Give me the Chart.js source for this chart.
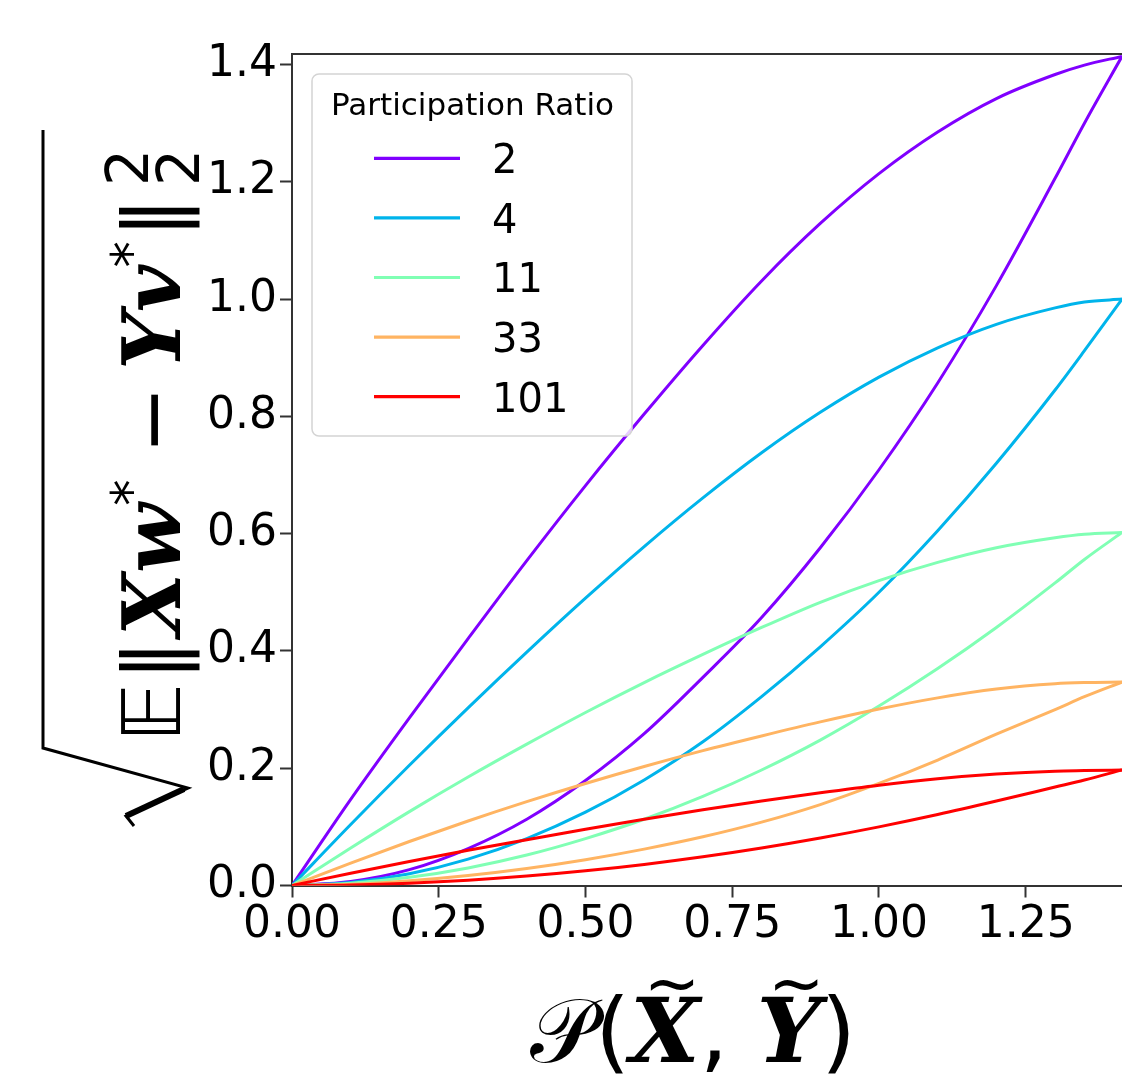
<!DOCTYPE html>
<html>
<head>
<meta charset="utf-8">
<script src="https://cdn.jsdelivr.net/npm/chart.js@4.4.0/dist/chart.umd.min.js"></script>
<style>
  html, body { margin: 0; padding: 0; background: #fff; }
  #wrap { position: relative; width: 1122px; height: 1077px; }
</style>
</head>
<body>
<div id="wrap"><canvas id="chart" width="1122" height="1077"></canvas></div>
<script>
// ------ Data ------
var ratios = ['2', '4', '11', '33', '101'];
var colors = ['#8000ff', '#00b4eb', '#80ffb4', '#ffb462', '#ff0000'];
var procrustes = [0, 0.1, 0.2, 0.3, 0.4, 0.5, 0.6, 0.7, 0.8, 0.9, 1.0, 1.1, 1.2, 1.3, 1.35, 1.414];

var upperPR2   = [0, 0.147, 0.286, 0.421, 0.554, 0.682, 0.804, 0.921, 1.031, 1.129, 1.214, 1.285, 1.342, 1.383, 1.399, 1.414];
var lowerPR2   = [0, 0.007, 0.027, 0.063, 0.113, 0.179, 0.259, 0.355, 0.457, 0.576, 0.709, 0.857, 1.023, 1.206, 1.300, 1.414];
var upperPR4   = [0, 0.104, 0.205, 0.303, 0.398, 0.490, 0.578, 0.661, 0.738, 0.807, 0.867, 0.917, 0.957, 0.985, 0.995, 1.0];
var lowerPR4   = [0, 0.005, 0.02, 0.045, 0.08, 0.125, 0.18, 0.245, 0.322, 0.407, 0.5, 0.605, 0.72, 0.845, 0.912, 1.0];
var upperPR11  = [0, 0.064, 0.126, 0.185, 0.241, 0.295, 0.346, 0.394, 0.440, 0.483, 0.520, 0.551, 0.576, 0.593, 0.599, 0.602];
var lowerPR11  = [0, 0.004, 0.014, 0.030, 0.052, 0.080, 0.113, 0.152, 0.197, 0.248, 0.306, 0.370, 0.440, 0.516, 0.556, 0.602];
var upperPR33  = [0, 0.038, 0.075, 0.110, 0.143, 0.174, 0.203, 0.230, 0.255, 0.279, 0.301, 0.320, 0.335, 0.344, 0.346, 0.347];
var lowerPR33  = [0, 0.002, 0.008, 0.017, 0.029, 0.044, 0.062, 0.083, 0.108, 0.138, 0.174, 0.214, 0.258, 0.300, 0.322, 0.347];
var upperPR101 = [0, 0.021, 0.041, 0.060, 0.078, 0.096, 0.113, 0.129, 0.144, 0.158, 0.171, 0.182, 0.190, 0.195, 0.196, 0.197];
var lowerPR101 = [0, 0.001, 0.004, 0.009, 0.016, 0.025, 0.036, 0.049, 0.064, 0.081, 0.100, 0.121, 0.144, 0.168, 0.180, 0.197];

var xTicks = [0, 0.25, 0.5, 0.75, 1.0, 1.25];
var yTicks = [0, 0.2, 0.4, 0.6, 0.8, 1.0, 1.2, 1.4];

var upperCurves = [upperPR2, upperPR4, upperPR11, upperPR33, upperPR101];
var lowerCurves = [lowerPR2, lowerPR4, lowerPR11, lowerPR33, lowerPR101];

var SANS = '"DejaVu Sans", "Noto Sans", sans-serif';
var SERIF = '"DejaVu Serif", "Liberation Serif", serif';

// ------ Datasets (two branches per ratio, same colour) ------
var datasets = [];
ratios.forEach(function(r, i) {
    [upperCurves[i], lowerCurves[i]].forEach(function(vals) {
        datasets.push({
            label: r,
            data: procrustes.map(function(x, j) { return { x: x, y: vals[j] }; }),
            borderColor: colors[i],
            backgroundColor: colors[i],
            borderWidth: 3,
            pointRadius: 0,
            fill: false,
            cubicInterpolationMode: 'monotone',
            order: ratios.length - i
        });
    });
});

// ------ Helpers for the math titles ------
function pieceFont(p, size) {
    var s = size * (p.scale || 1);
    return (p.style ? p.style + ' ' : '') + s.toFixed(1) + 'px ' + (p.family || SANS);
}

function runWidth(ctx, pieces, size) {
    var w = 0;
    pieces.forEach(function(p) {
        ctx.font = pieceFont(p, size);
        w += ctx.measureText(p.t).width + (p.gap || 0) * size;
    });
    return w;
}

function drawRun(ctx, pieces, size) {
    var u = 0;
    pieces.forEach(function(p) {
        ctx.font = pieceFont(p, size);
        var w = ctx.measureText(p.t).width;
        ctx.fillText(p.t, u, -(p.rise || 0) * size);
        if (p.sub) ctx.fillText(p.sub, u, 0.24 * size);
        if (p.tilde) {
            ctx.font = (0.75 * size).toFixed(1) + 'px ' + SANS;
            var tw = ctx.measureText('~').width;
            ctx.fillText('~', u + w / 2 - tw / 2 + 0.08 * size, -0.62 * size);
        }
        u += w + (p.gap || 0) * size;
    });
    return u;
}

var yTitlePieces = [
    { t: '\u{1D53C}', family: SANS, gap: 0.03 },
    { t: '\u2016', family: SANS, gap: 0.05 },
    { t: 'X', style: 'bold italic', family: SERIF },
    { t: 'w', style: 'bold italic', family: SERIF, gap: -0.03 },
    { t: '*', scale: 0.65, rise: 0.38, family: SANS },
    { t: ' \u2212 ', family: SANS, gap: -0.12 },
    { t: 'Y', style: 'bold italic', family: SERIF },
    { t: 'v', style: 'bold italic', family: SERIF, gap: -0.03 },
    { t: '*', scale: 0.65, rise: 0.38, family: SANS, gap: 0.04 },
    { t: '\u2016', family: SANS, gap: 0.14 },
    { t: '2', scale: 0.72, rise: 0.4, sub: '2', family: SANS }
];

var xTitlePieces = [
    { t: '\u{1D4AB}', family: SANS },
    { t: '(', family: SANS },
    { t: 'X', style: 'bold italic', family: SERIF, tilde: true },
    { t: ', ', family: SANS },
    { t: 'Y', style: 'bold italic', family: SERIF, tilde: true },
    { t: ')', family: SANS }
];

var mathTitles = {
    id: 'mathTitles',
    afterDraw: function(chart) {
        var ctx = chart.ctx;
        ctx.save();
        ctx.fillStyle = '#000';
        ctx.textBaseline = 'alphabetic';
        ctx.textAlign = 'left';

        // y title, rotated, reading upwards, under a radical
        ctx.save();
        ctx.translate(180, 742);
        ctx.rotate(-Math.PI / 2);
        var end = drawRun(ctx, yTitlePieces, 81);
        ctx.strokeStyle = '#000';
        ctx.lineJoin = 'miter';
        ctx.lineWidth = 3;
        ctx.beginPath();
        ctx.moveTo(-84, -46);
        ctx.lineTo(-74, -54);
        ctx.lineTo(-46, 8);
        ctx.lineTo(-6, -137);
        ctx.lineTo(Math.max(end + 6, 612), -137);
        ctx.stroke();
        ctx.lineWidth = 6;
        ctx.beginPath();
        ctx.moveTo(-74, -54);
        ctx.lineTo(-47, 4);
        ctx.stroke();
        ctx.restore();

        // x title
        var xs = 75 * 326 / runWidth(ctx, xTitlePieces, 75);
        var w = runWidth(ctx, xTitlePieces, xs);
        ctx.save();
        ctx.translate(693 - w / 2, 1062);
        drawRun(ctx, xTitlePieces, xs);
        ctx.restore();

        ctx.restore();
    }
};

// ------ Legend box inside the axes ------
var legendBox = {
    id: 'legendBox',
    afterDraw: function(chart) {
        var ctx = chart.ctx;
        var x0 = 312, y0 = 74, w = 320, h = 362, r = 7;
        ctx.save();
        ctx.beginPath();
        ctx.moveTo(x0 + r, y0);
        ctx.arcTo(x0 + w, y0, x0 + w, y0 + h, r);
        ctx.arcTo(x0 + w, y0 + h, x0, y0 + h, r);
        ctx.arcTo(x0, y0 + h, x0, y0, r);
        ctx.arcTo(x0, y0, x0 + w, y0, r);
        ctx.closePath();
        ctx.fillStyle = 'rgba(255,255,255,0.8)';
        ctx.fill();
        ctx.strokeStyle = '#d4d4d4';
        ctx.lineWidth = 1.5;
        ctx.stroke();

        ctx.fillStyle = '#000';
        ctx.textBaseline = 'alphabetic';
        ctx.textAlign = 'center';
        ctx.font = '31px ' + SANS;
        ctx.fillText('Participation Ratio', 472.5, 115);

        ctx.textAlign = 'left';
        ctx.font = '40px ' + SANS;
        ratios.forEach(function(r, i) {
            var y = 158.3 + i * 59.6;
            ctx.strokeStyle = colors[i];
            ctx.lineWidth = 3.2;
            ctx.beginPath();
            ctx.moveTo(374, y);
            ctx.lineTo(460, y);
            ctx.stroke();
            ctx.fillText(r, 492, y + 14.8);
        });
        ctx.restore();
    }
};

// ------ Top spine ------
var frame = {
    id: 'frame',
    afterDatasetsDraw: function(chart) {
        var a = chart.chartArea, ctx = chart.ctx;
        ctx.save();
        ctx.strokeStyle = '#333';
        ctx.lineWidth = 2;
        ctx.beginPath();
        ctx.moveTo(a.left, a.top);
        ctx.lineTo(a.right, a.top);
        ctx.stroke();
        ctx.restore();
    }
};

var tickFont = { family: SANS, size: 44 };

new Chart(document.getElementById('chart'), {
    type: 'line',
    data: { datasets: datasets },
    plugins: [frame, legendBox, mathTitles],
    options: {
        responsive: false,
        animation: false,
        layout: { padding: { top: 54, left: 0, right: 0, bottom: 0 } },
        plugins: {
            legend: { display: false },
            tooltip: { enabled: false }
        },
        scales: {
            x: {
                type: 'linear',
                min: 0,
                max: 1.414,
                afterBuildTicks: function(scale) {
                    scale.ticks = xTicks.map(function(v) { return { value: v }; });
                },
                afterFit: function(scale) { scale.height = 191.5; },
                grid: { drawOnChartArea: false, drawTicks: true, tickLength: 12, tickWidth: 2, tickColor: '#333' },
                border: { display: true, color: '#333', width: 2 },
                ticks: {
                    color: '#000',
                    font: tickFont,
                    padding: 2,
                    maxRotation: 0,
                    autoSkip: false,
                    callback: function(v) { return Number(v).toFixed(2); }
                }
            },
            y: {
                type: 'linear',
                min: 0,
                max: 1.418,
                afterBuildTicks: function(scale) {
                    scale.ticks = yTicks.map(function(v) { return { value: v }; });
                },
                afterFit: function(scale) { scale.width = 292; },
                grid: { drawOnChartArea: false, drawTicks: true, tickLength: 12, tickWidth: 2, tickColor: '#333' },
                border: { display: true, color: '#333', width: 2 },
                ticks: {
                    color: '#000',
                    font: tickFont,
                    padding: 3,
                    autoSkip: false,
                    callback: function(v) { return Number(v).toFixed(1); }
                }
            }
        }
    }
});
</script>
</body>
</html>
